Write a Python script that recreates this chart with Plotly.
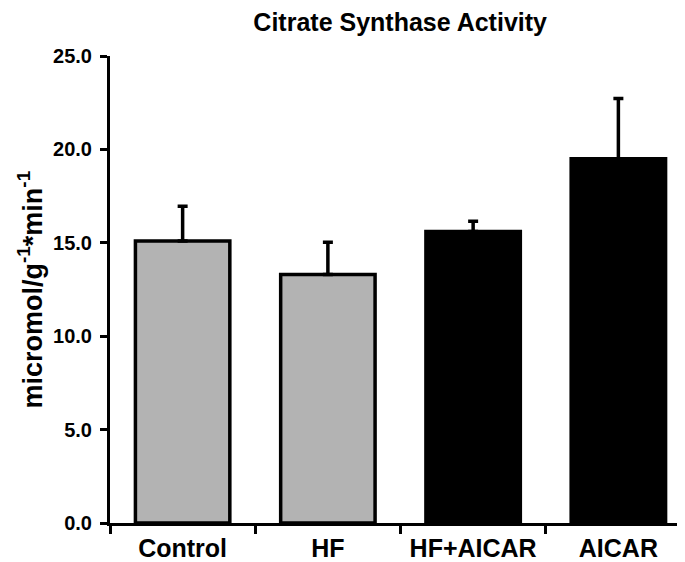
import plotly.graph_objects as go

categories = ["Control", "HF", "HF+AICAR", "AICAR"]
means = [15.1, 13.3, 15.6, 19.5]
errors_up = [1.85, 1.73, 0.56, 3.22]
bar_colors = ["#b3b3b3", "#b3b3b3", "#000000", "#000000"]
y_ticks = [0, 5, 10, 15, 20, 25]

FONT = "Liberation Sans, Arial, Helvetica, sans-serif"

fig = go.Figure()
fig.add_trace(go.Bar(
    x=categories,
    y=means,
    width=0.65,
    marker=dict(color=bar_colors, line=dict(color="#000000", width=3.5)),
    error_y=dict(type="data", array=errors_up, arrayminus=[0] * 4, symmetric=False,
                 color="#000000", thickness=3.5, width=5),
    showlegend=False,
))

fig.update_layout(
    width=685, height=562,
    margin=dict(l=102, r=2, t=48, b=47),
    paper_bgcolor="white", plot_bgcolor="white",
    font=dict(family=FONT, color="#000000"),
    title=dict(text="Citrate Synthase Activity", x=0.5725, xanchor="center",
               y=1 - 14 / 562, yanchor="middle", yref="container",
               font=dict(size=25, family=FONT, weight="bold")),
    bargap=0.35,
    annotations=[dict(
        text="micromol/g<sup>-1</sup>*min<sup>-1</sup>",
        textangle=-90, xref="paper", yref="paper",
        x=(22 - 102) / 581, y=0.5, xanchor="center", yanchor="middle",
        showarrow=False, font=dict(size=27, family=FONT, weight="bold"),
    )],
)
fig.update_xaxes(
    type="category",
    showline=True, linecolor="#000000", linewidth=3,
    ticks="outside", tickson="boundaries", ticklen=8, tickwidth=3, tickcolor="#000000",
    tickfont=dict(size=25, family=FONT, weight="bold"),
    showgrid=False, zeroline=False,
    ticklabelstandoff=1,
)
fig.update_yaxes(
    range=[0, 25],
    tickvals=y_ticks, tickformat=".1f",
    showline=True, linecolor="#000000", linewidth=3,
    ticks="outside", ticklen=7, tickwidth=3, tickcolor="#000000",
    tickfont=dict(size=20, family=FONT, weight="bold"),
    ticklabelstandoff=4,
    showgrid=False, zeroline=False,
)

fig.write_html("out.html")
